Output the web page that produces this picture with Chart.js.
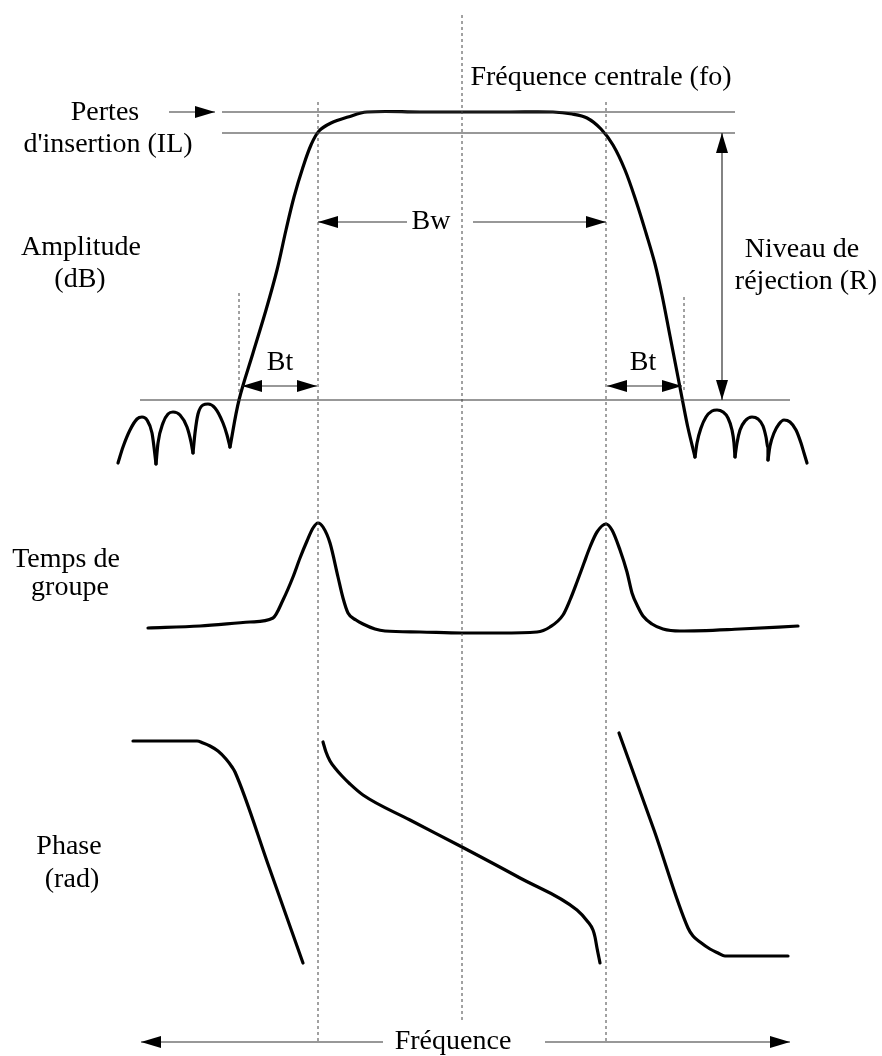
<!DOCTYPE html>
<html>
<head>
<meta charset="utf-8">
<script src="https://cdn.jsdelivr.net/npm/chart.js@4/dist/chart.umd.min.js"></script>
<style>
  html, body { margin: 0; padding: 0; background: #fff; }
  canvas { display: block; }
</style>
</head>
<body>
<canvas id="filtre" width="882" height="1056"></canvas>
<script>
// Schéma de réponse d'un filtre passe-bande (unités arbitraires)
// x = fréquence, y = niveau (vers le bas)

// --- Amplitude : ondulations hors bande (arches) ---
const ampArchesGauche = [
    [[118,463],[123,447],[130,430],[137,419],[142,417],[147,420],[152,433],[154,447],[156,464]],
    [[156,464],[158,443],[163,423],[168,414],[173,412],[180,415],[187,427],[191,442],[193,453]],
    [[193,453],[195,433],[198,414],[203,405],[208,404],[215,408],[223,423],[227,435],[230,447]]
];
const ampArchesDroite = [
    [[695,457],[697,443],[701,428],[706,417],[712,411],[717,410],[723,412],[728,418],[732,430],[734,443],[735,457]],
    [[735,457],[737,443],[740,430],[745,421],[752,417],[758,419],[763,426],[766,437],[768,448],[768,460]],
    [[768,460],[770,446],[774,433],[779,424],[784,420],[790,422],[796,430],[801,443],[804,453],[807,463]]
];
// --- Amplitude : flancs + bande passante ---
const ampBande = [
    [230,447],[239,400],[253,353],[266,310],[277,270],[286,230],[294,197],[303,167],[311,145],
    [319,131],[331,123],[348,117],[367,112],[420,112],[462,112],[510,112],[553,112],[572,114],
    [587,118],[601,129],[613,145],[625,170],[636,201],[646,233],[655,264],[662,295],[670,336],
    [677,372],[683,403],[688,428],[695,457]
];

// --- Temps de groupe ---
const tempsGroupe = [
    [148,628],[200,626],[250,622],[273,618],[283,600],[293,577],[300,558],[307,541],[313,528],
    [318,523],[323,527],[330,543],[338,577],[343,598],[348,613],[356,620],[363,624],[375,629],
    [385,631],[420,632],[462,633],[500,633],[537,632],[550,627],[563,615],[570,600],[577,582],
    [584,563],[590,547],[597,532],[606,524],[612,530],[620,550],[627,572],[632,593],[638,607],
    [643,616],[652,624],[663,629],[680,631],[740,629],[798,626]
];

// --- Phase (trois segments) ---
const phase1 = [[133,741],[165,741],[197,741],[203,743],[210,746],[218,751],[226,759],[232,767],[235,772],[269,867],[303,963]];
const phase2 = [[323,742],[326,752],[330,761],[335,768],[342,776],[350,784],[363,795],[410,820],[462,847],[520,878],[577,910],[588,922],[593,930],[595,937],[597,948],[600,963]];
const phase3 = [[619,733],[654,830],[688,928],[693,936],[700,942],[710,949],[718,953],[725,956],[760,956],[788,956]];

// --- Repères ---
const repereFreq = [318, 462, 606];   // fc-, fo, fc+
const repereBt = [239, 684];
const niveauIL = [112, 133];          // pertes d'insertion
const niveauRej = 400;                // niveau de réjection

const pts = arr => arr.map(p => ({ x: p[0], y: p[1] }));

const courbe = (data, lisse) => ({
    data: pts(data), borderColor: '#000', borderWidth: 3.2, pointRadius: 0,
    cubicInterpolationMode: lisse ? 'default' : 'monotone', tension: lisse || 0,
    borderCapStyle: 'round', borderJoinStyle: 'round'
});
const trait = (data, extra) => Object.assign({
    data: pts(data), borderColor: '#333', borderWidth: 1.2, pointRadius: 0, tension: 0
}, extra || {});
const tirets = (data) => trait(data, { borderDash: [3, 3], borderColor: '#444', borderWidth: 1 });

const datasets = [
    // pointillés verticaux
    tirets([[repereFreq[0],102],[repereFreq[0],1042]]),
    tirets([[repereFreq[1],15],[repereFreq[1],1023]]),
    tirets([[repereFreq[2],102],[repereFreq[2],1042]]),
    tirets([[repereBt[0],293],[repereBt[0],393]]),
    tirets([[repereBt[1],297],[repereBt[1],392]]),
    // niveaux horizontaux
    trait([[222,niveauIL[0]],[735,niveauIL[0]]]),
    trait([[222,niveauIL[1]],[735,niveauIL[1]]]),
    trait([[140,niveauRej],[790,niveauRej]]),
    // flèches
    trait([[169,112],[215,112]], { arrow: 'end' }),
    trait([[407,222],[repereFreq[0],222]], { arrow: 'end' }),
    trait([[473,222],[repereFreq[2],222]], { arrow: 'end' }),
    trait([[242,386],[317,386]], { arrow: 'both' }),
    trait([[607,386],[682,386]], { arrow: 'both' }),
    trait([[722,niveauIL[1]],[722,niveauRej]], { arrow: 'both' }),
    trait([[383,1042],[141,1042]], { arrow: 'end' }),
    trait([[545,1042],[790,1042]], { arrow: 'end' }),
    // courbes
    ...ampArchesGauche.map(a => courbe(a)),
    courbe(ampBande, 0.35),
    ...ampArchesDroite.map(a => courbe(a)),
    courbe(tempsGroupe),
    courbe(phase1),
    courbe(phase2),
    courbe(phase3)
];

const etiquettes = [
    { t: 'Fréquence centrale (fo)', x: 601, y: 78 },
    { t: 'Pertes', x: 105, y: 113 },
    { t: "d'insertion (IL)", x: 108, y: 145 },
    { t: 'Bw', x: 431, y: 222 },
    { t: 'Amplitude', x: 81, y: 248 },
    { t: '(dB)', x: 80, y: 280 },
    { t: 'Niveau de', x: 802, y: 250 },
    { t: 'réjection (R)', x: 806, y: 282 },
    { t: 'Bt', x: 280, y: 363 },
    { t: 'Bt', x: 643, y: 363 },
    { t: 'Temps de', x: 66, y: 560 },
    { t: 'groupe', x: 70, y: 588 },
    { t: 'Phase', x: 69, y: 847 },
    { t: '(rad)', x: 72, y: 880 },
    { t: 'Fréquence', x: 453, y: 1042 }
];

// pointes de flèches aux extrémités des traits
const pointesFleches = {
    id: 'pointesFleches',
    afterDatasetsDraw(chart) {
        const ctx = chart.ctx;
        chart.data.datasets.forEach((ds, i) => {
            if (!ds.arrow) return;
            const el = chart.getDatasetMeta(i).data;
            const n = el.length;
            const tete = (a, b) => {
                const ang = Math.atan2(b.y - a.y, b.x - a.x);
                const L = 20, w = 6;
                ctx.save();
                ctx.translate(b.x, b.y);
                ctx.rotate(ang);
                ctx.beginPath();
                ctx.moveTo(0, 0);
                ctx.lineTo(-L, -w);
                ctx.lineTo(-L, w);
                ctx.closePath();
                ctx.fillStyle = '#000';
                ctx.fill();
                ctx.restore();
            };
            tete(el[n - 2], el[n - 1]);
            if (ds.arrow === 'both') tete(el[1], el[0]);
        });
    }
};

const textes = {
    id: 'textes',
    afterDraw(chart) {
        const ctx = chart.ctx, sx = chart.scales.x, sy = chart.scales.y;
        ctx.save();
        ctx.font = '28px "Liberation Serif", "Times New Roman", serif';
        ctx.fillStyle = '#000';
        ctx.textAlign = 'center';
        ctx.textBaseline = 'middle';
        etiquettes.forEach(e => ctx.fillText(e.t, sx.getPixelForValue(e.x), sy.getPixelForValue(e.y)));
        ctx.restore();
    }
};

new Chart(document.getElementById('filtre'), {
    type: 'line',
    data: { datasets },
    options: {
        responsive: false,
        animation: false,
        devicePixelRatio: 1,
        layout: { padding: 0 },
        plugins: { legend: { display: false }, tooltip: { enabled: false } },
        scales: {
            x: { type: 'linear', min: 0, max: 882, display: false },
            y: { type: 'linear', min: 0, max: 1056, reverse: true, display: false }
        }
    },
    plugins: [pointesFleches, textes]
});
</script>
</body>
</html>
